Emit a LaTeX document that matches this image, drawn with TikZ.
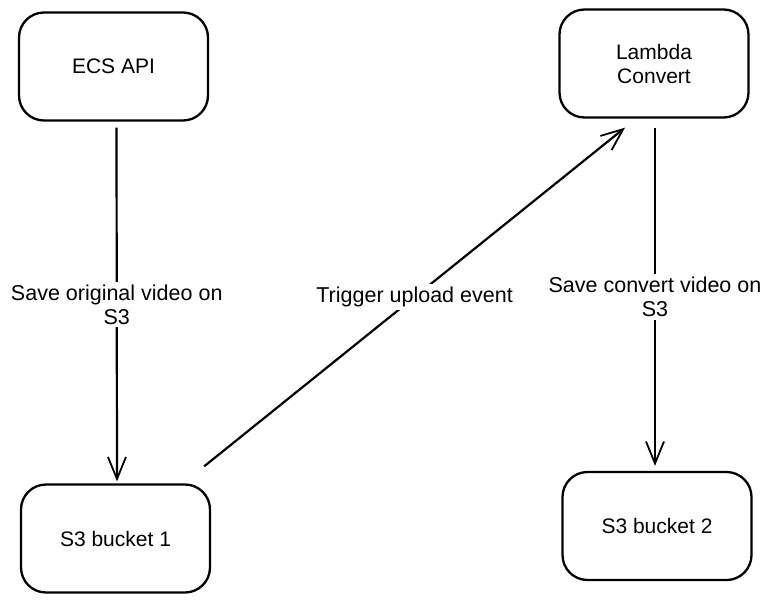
\documentclass[tikz,border=0pt]{standalone}
\usepackage{fontspec}
\setmainfont{Liberation Sans}
\usetikzlibrary{arrows.meta}

\begin{document}
\begin{tikzpicture}[x=1pt, y=-1pt,
    box/.style={draw, line width=2.3pt, rounded corners=25pt, minimum width=189pt, minimum height=108pt, align=center, font=\fontsize{21}{24}\selectfont},
    arr/.style={line width=2.2pt, -{Straight Barb[length=22pt, width=18pt, line width=1.8pt]}},
    lbl/.style={fill=white, align=center, inner sep=3pt, font=\fontsize{21.5}{24}\selectfont}]
      \useasboundingbox (0, 0) rectangle (774, 603);
      \node[box] (ecs) at (113.5, 66.5) {ECS API};
      \node[box] (lambda) at (654, 63.5) {Lambda\\Convert};
      \node[box] (bucketA) at (115.5, 538.5) {S3 bucket 1};
      \node[box] (bucketB) at (657, 526) {S3 bucket 2};
      \draw[arr] ([shift={(3, 6)}]ecs.south) -- node[lbl] {Save original video on\\S3} ([shift={(1.5, -2)}]bucketA.north);
      \draw[arr] ([shift={(-7, -17)}]bucketA.north east) -- node[lbl] {Trigger upload event} ([shift={(-29, 9)}]lambda.south);
      \draw[arr] ([shift={(1, 9)}]lambda.south) -- node[lbl] {Save convert video on\\S3} ([shift={(-2, -5)}]bucketB.north);
\end{tikzpicture}
\end{document}
